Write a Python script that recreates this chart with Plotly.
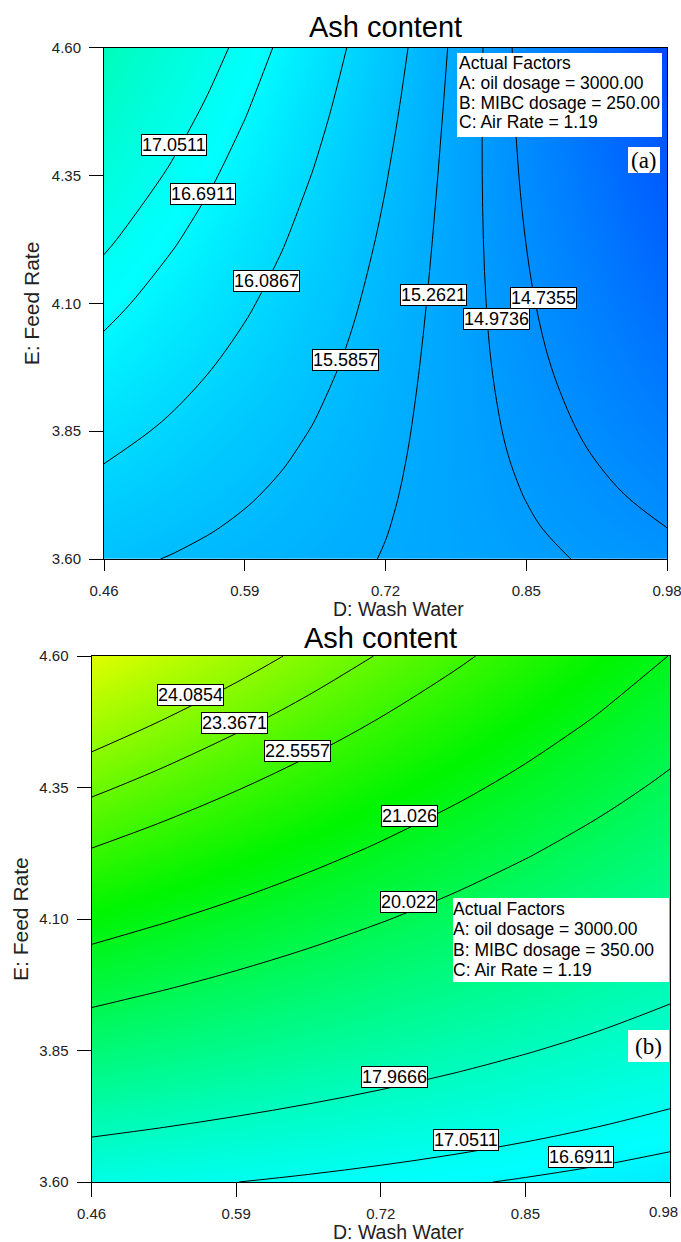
import plotly.graph_objects as go

# ---------------- data ----------------
# plot (a): grid is finer in the lower-left part where contours bend most
D_A = [0.46, 0.525, 0.5575, 0.59, 0.6225, 0.655, 0.6875, 0.72, 0.785, 0.85, 0.915, 0.98]
E_A = [3.60, 3.6625, 3.725, 3.7875, 3.85, 3.975, 4.10, 4.225, 4.35, 4.475, 4.60]
ASH_A = [
    [15.670, 15.565, 15.5125, 15.460, 15.4075, 15.355, 15.3025, 15.250, 15.145, 15.040, 14.935, 14.830],
    [15.8083, 15.6739, 15.6067, 15.5396, 15.4724, 15.4052, 15.3380, 15.2708, 15.1364, 15.0021, 14.8677, 14.7333],
    [15.9481, 15.7844, 15.7025, 15.6206, 15.5387, 15.4569, 15.3750, 15.2931, 15.1294, 14.9656, 14.8019, 14.6381],
    [16.0895, 15.8964, 15.7998, 15.7033, 15.6067, 15.5101, 15.4136, 15.3170, 15.1239, 14.9308, 14.7376, 14.5445],
    [16.2325, 16.0100, 15.8988, 15.7875, 15.6763, 15.5650, 15.4538, 15.3425, 15.1200, 14.8975, 14.6750, 14.4525],
    [16.5231, 16.2419, 16.1012, 15.9606, 15.8200, 15.6794, 15.5387, 15.3981, 15.1169, 14.8356, 14.5544, 14.2731],
    [16.8200, 16.4800, 16.3100, 16.1400, 15.9700, 15.8000, 15.6300, 15.4600, 15.1200, 14.7800, 14.4400, 14.1000],
    [17.1231, 16.7244, 16.5250, 16.3256, 16.1262, 15.9269, 15.7275, 15.5281, 15.1294, 14.7306, 14.3319, 13.9331],
    [17.4325, 16.9750, 16.7463, 16.5175, 16.2888, 16.0600, 15.8313, 15.6025, 15.1450, 14.6875, 14.2300, 13.7725],
    [17.7481, 17.2319, 16.9737, 16.7156, 16.4575, 16.1994, 15.9412, 15.6831, 15.1669, 14.6506, 14.1344, 13.6181],
    [18.0700, 17.4950, 17.2075, 16.9200, 16.6325, 16.3450, 16.0575, 15.7700, 15.1950, 14.6200, 14.0450, 13.4700],
]

# plot (b)
D_B = [0.46, 0.525, 0.59, 0.655, 0.72, 0.785, 0.85, 0.915, 0.98]
E_B = [3.60, 3.725, 3.85, 3.975, 4.10, 4.225, 4.35, 4.475, 4.60]
ASH_B = [
    [17.260, 17.158, 17.055, 16.953, 16.850, 16.748, 16.645, 16.543, 16.440],
    [18.295, 18.131, 17.968, 17.804, 17.640, 17.476, 17.313, 17.149, 16.985],
    [19.340, 19.118, 18.895, 18.673, 18.450, 18.228, 18.005, 17.783, 17.560],
    [20.385, 20.104, 19.823, 19.541, 19.260, 18.979, 18.698, 18.416, 18.135],
    [21.430, 21.090, 20.750, 20.410, 20.070, 19.730, 19.390, 19.050, 18.710],
    [22.475, 22.076, 21.678, 21.279, 20.880, 20.481, 20.083, 19.684, 19.285],
    [23.520, 23.063, 22.605, 22.148, 21.690, 21.233, 20.775, 20.318, 19.860],
    [24.565, 24.049, 23.533, 23.016, 22.500, 21.984, 21.468, 20.951, 20.435],
    [25.610, 25.035, 24.460, 23.885, 23.310, 22.735, 22.160, 21.585, 21.010],
]

LEVELS_A = [17.0511, 16.6911, 16.0867, 15.5857, 15.2621, 14.9736, 14.7355]
LEVEL_TEXT_A = ["17.0511", "16.6911", "16.0867", "15.5857", "15.2621", "14.9736", "14.7355"]
LEVELS_B = [24.0854, 23.3671, 22.5557, 21.026, 20.022, 17.9666, 17.0511, 16.6911]
LEVEL_TEXT_B = ["24.0854", "23.3671", "22.5557", "21.026", "20.022", "17.9666", "17.0511", "16.6911"]

X_TICKS = [0.46, 0.59, 0.72, 0.85, 0.98]
X_TICK_TEXT = ["0.46", "0.59", "0.72", "0.85", "0.98"]
Y_TICKS = [3.60, 3.85, 4.10, 4.35, 4.60]
Y_TICK_TEXT = ["3.60", "3.85", "4.10", "4.35", "4.60"]

FACTORS_A = ["Actual Factors", "A: oil dosage = 3000.00", "B: MIBC dosage = 250.00", "C: Air Rate = 1.19"]
FACTORS_B = ["Actual Factors", "A: oil dosage = 3000.00", "B: MIBC dosage = 350.00", "C: Air Rate = 1.19"]

# ---------------- layout helpers ----------------
W, H = 681, 1242
def px(x):
    return x / W
def py(y):
    return 1 - y / H

# label positions (data coords) for each contour label
LABEL_POS_A = [(0.525, 4.410), (0.551, 4.313), (0.610, 4.143), (0.6835, 3.990),
               (0.764, 4.116), (0.8225, 4.069), (0.866, 4.110)]
LABEL_POS_B = [(0.549, 4.526), (0.5885, 4.472), (0.6456, 4.419), (0.746, 4.296),
               (0.7445, 4.133), (0.7324, 3.800), (0.7966, 3.679), (0.900, 3.647)]

COLORSCALE = [[0, "rgb(0,0,255)"], [1/3, "rgb(0,255,255)"], [2/3, "rgb(0,245,0)"], [1, "rgb(255,255,0)"]]
ZMIN, ZMAX = 12.1, 26.2
FONT = "Liberation Sans, Arial, sans-serif"

fig = go.Figure()

for dv, ev, grid, levels, xa, ya in [(D_A, E_A, ASH_A, LEVELS_A, "x", "y"),
                                     (D_B, E_B, ASH_B, LEVELS_B, "x2", "y2")]:
    fig.add_trace(go.Heatmap(x=dv, y=ev, z=grid, zsmooth="best",
                             colorscale=COLORSCALE, zmin=ZMIN, zmax=ZMAX,
                             showscale=False, hoverinfo="skip", xaxis=xa, yaxis=ya))
    for lvl in levels:
        fig.add_trace(go.Contour(x=dv, y=ev, z=grid, autocontour=False,
                                 contours=dict(start=lvl, end=lvl, size=1, coloring="none"),
                                 line=dict(color="black", width=1, smoothing=1),
                                 showscale=False, hoverinfo="skip", xaxis=xa, yaxis=ya))

# plot areas (pixels)
A_BOX = dict(l=104, r=667, t=47.7, b=559)
B_BOX = dict(l=91.5, r=670, t=656, b=1182)

TICK_FONT = dict(family=FONT, size=15, color="#222")
axis_common = dict(showline=True, mirror=True, linecolor="black", linewidth=1,
                   ticks="outside", tickcolor="black", tickwidth=1,
                   showgrid=False, zeroline=False, ticklabeloverflow="allow",
                   automargin=False, tickfont=TICK_FONT)

layout = dict(width=W, height=H, autosize=False,
              margin=dict(l=0, r=0, t=0, b=0, pad=0, autoexpand=False),
              paper_bgcolor="white", plot_bgcolor="white", showlegend=False)

# the bottom panel's last x label sits at the page edge: it is placed separately below
for sfx, box, xlen, xoff, yoff, xtext in [("", A_BOX, 11, 7, 5, X_TICK_TEXT),
                                          ("2", B_BOX, 14, 4, 5, X_TICK_TEXT[:-1] + [""])]:
    layout["xaxis" + sfx] = dict(axis_common, domain=[px(box["l"]), px(box["r"])],
                                 range=[0.46, 0.98], anchor="y" + sfx,
                                 tickvals=X_TICKS, ticktext=xtext, ticklen=xlen,
                                 ticklabelstandoff=xoff)
    layout["yaxis" + sfx] = dict(axis_common, domain=[py(box["b"]), py(box["t"])],
                                 range=[3.60, 4.60], anchor="x" + sfx,
                                 tickvals=Y_TICKS, ticktext=Y_TICK_TEXT, ticklen=14,
                                 ticklabelstandoff=yoff)

fig.update_layout(**layout)

annotations = []
shapes = []

# last tick label of the bottom panel, kept inside the page
annotations.append(dict(x=X_TICKS[-1], y=py(1211), xref="x2", yref="paper", text=X_TICK_TEXT[-1],
                        showarrow=False, xanchor="right", yanchor="middle", xshift=10,
                        font=TICK_FONT))

# contour labels
for texts, pos, xa, ya in [(LEVEL_TEXT_A, LABEL_POS_A, "x", "y"), (LEVEL_TEXT_B, LABEL_POS_B, "x2", "y2")]:
    for t, (xv, yv) in zip(texts, pos):
        annotations.append(dict(x=xv, y=yv, xref=xa, yref=ya, text=t, showarrow=False,
                                font=dict(family=FONT, size=18, color="black"),
                                bgcolor="white", bordercolor="black", borderwidth=1, borderpad=0))

# titles
for box, ty, xty, yx in [(A_BOX, 27, 609, 31), (B_BOX, 638, 1232, 20)]:
    cx = (box["l"] + box["r"]) / 2
    annotations.append(dict(x=px(cx), y=py(ty), xref="paper", yref="paper", text="Ash content",
                            showarrow=False, xanchor="center", yanchor="middle",
                            font=dict(family=FONT, size=29, color="black")))
    annotations.append(dict(x=px(398), y=py(xty), xref="paper", yref="paper", text="D: Wash Water",
                            showarrow=False, xanchor="center", yanchor="middle",
                            font=dict(family=FONT, size=19.5, color="#222")))
    annotations.append(dict(x=px(yx), y=py((box["t"] + box["b"]) / 2), xref="paper", yref="paper",
                            text="E: Feed Rate", textangle=-90, showarrow=False,
                            xanchor="center", yanchor="middle",
                            font=dict(family=FONT, size=21, color="#222")))

# actual-factor boxes
for lines, rect, tx, ly in [(FACTORS_A, (457, 53, 662, 137), 457, [63, 83, 103, 122]),
                            (FACTORS_B, (453, 898, 669, 982), 451, [909, 929, 950, 970])]:
    shapes.append(dict(type="rect", xref="paper", yref="paper",
                       x0=px(rect[0]), x1=px(rect[2]), y0=py(rect[3]), y1=py(rect[1]),
                       fillcolor="white", line=dict(width=0), layer="above"))
    for t, yy in zip(lines, ly):
        annotations.append(dict(x=px(tx), y=py(yy), xref="paper", yref="paper", text=t,
                                showarrow=False, xanchor="left", yanchor="middle",
                                font=dict(family=FONT, size=17.5, color="black")))

# panel letters
for letter, rect in [("(a)", (628, 147, 660, 173)), ("(b)", (628, 1030, 669, 1062))]:
    shapes.append(dict(type="rect", xref="paper", yref="paper",
                       x0=px(rect[0]), x1=px(rect[2]), y0=py(rect[3]), y1=py(rect[1]),
                       fillcolor="white", line=dict(width=0), layer="above"))
    annotations.append(dict(x=px((rect[0] + rect[2]) / 2), y=py((rect[1] + rect[3]) / 2),
                            xref="paper", yref="paper", text=letter, showarrow=False,
                            xanchor="center", yanchor="middle",
                            font=dict(family="Liberation Serif, Times New Roman, serif", size=23, color="black")))

fig.update_layout(annotations=annotations, shapes=shapes)
fig.write_html("out.html")
